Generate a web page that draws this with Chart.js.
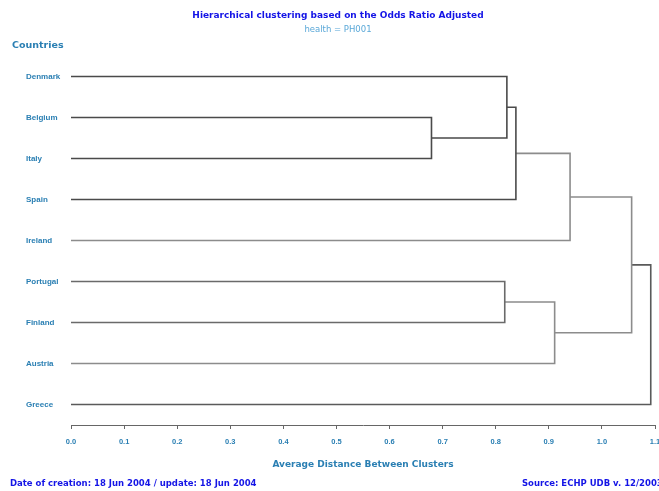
<!DOCTYPE html>
<html>
<head>
<meta charset="utf-8">
<script src="https://cdn.jsdelivr.net/npm/chart.js@4.4.0/dist/chart.umd.min.js"></script>
<style>
  body { margin: 0; background: #fff; }
  #wrap { width: 659px; height: 491px; }
</style>
</head>
<body>
<div id="wrap"><canvas id="dendro" width="659" height="491"></canvas></div>
<script>
// Leaves, top to bottom
const countries = ["Denmark", "Belgium", "Italy", "Spain", "Ireland", "Portugal", "Finland", "Austria", "Greece"];

// Each merge joins two nodes: a country name or the index of an earlier merge
const mergeLeft = ["Belgium", "Denmark", 1, 2, "Portugal", 4, 3, 6];
const mergeRight = ["Italy", 0, "Spain", "Ireland", "Finland", "Austria", 5, "Greece"];
const mergeHeights = [0.679, 0.821, 0.838, 0.940, 0.817, 0.911, 1.056, 1.092];

const xTicks = [0.0, 0.1, 0.2, 0.3, 0.4, 0.5, 0.6, 0.7, 0.8, 0.9, 1.0, 1.1];

const lineColors = ["#4a4a4a", "#4a4a4a", "#4a4a4a", "#8c8c8c", "#6a6a6a", "#8c8c8c", "#8c8c8c", "#5a5a5a"];

const axisBlue = "#2a7fb3";
const wideFont = "'DejaVu Sans', Verdana, sans-serif";
const narrowFont = "'Liberation Sans', Arial, sans-serif";

// Build the elbow lines of the tree
const nodeY = [];
function nodePos(node) {
  if (typeof node === "string") return { x: 0, y: countries.indexOf(node) };
  return { x: mergeHeights[node], y: nodeY[node] };
}

const datasets = mergeHeights.map((h, i) => {
  const a = nodePos(mergeLeft[i]);
  const b = nodePos(mergeRight[i]);
  nodeY[i] = (a.y + b.y) / 2;
  return {
    data: [a, { x: h, y: a.y }, { x: h, y: b.y }, b],
    showLine: true,
    borderColor: lineColors[i],
    borderWidth: 1.6,
    pointRadius: 0,
    fill: false
  };
});

// Titles and footnotes
const textPlugin = {
  id: "texts",
  afterDraw(chart) {
    const ctx = chart.ctx;
    ctx.save();
    ctx.textBaseline = "middle";

    ctx.textAlign = "center";
    ctx.fillStyle = "#1414e6";
    ctx.font = "bold 9px " + wideFont;
    ctx.fillText("Hierarchical clustering based on the Odds Ratio Adjusted", 338, 16);

    ctx.fillStyle = "#5aa8d8";
    ctx.font = "8.5px " + wideFont;
    ctx.fillText("health = PH001", 338, 30);

    ctx.fillStyle = axisBlue;
    ctx.font = "bold 9px " + wideFont;
    ctx.fillText("Average Distance Between Clusters", 363, 465);

    ctx.textAlign = "left";
    ctx.font = "bold 9.5px " + wideFont;
    ctx.fillText("Countries", 12, 46);

    ctx.fillStyle = "#1414e6";
    ctx.font = "bold 8.5px " + wideFont;
    ctx.fillText("Date of creation: 18 Jun 2004 / update: 18 Jun 2004", 10, 484);
    ctx.fillText("Source: ECHP UDB v. 12/2003", 522, 484);
    ctx.restore();
  }
};

new Chart(document.getElementById("dendro"), {
  type: "scatter",
  data: { datasets },
  options: {
    responsive: false,
    animation: false,
    events: [],
    layout: { padding: { top: 56, left: 26, right: 4, bottom: 0 } },
    plugins: {
      legend: { display: false },
      tooltip: { enabled: false }
    },
    scales: {
      x: {
        type: "linear",
        min: 0,
        max: 1.1,
        afterBuildTicks: (scale) => { scale.ticks = xTicks.map((v) => ({ value: v })); },
        afterFit: (scale) => {
          scale.height = 66;
          scale.paddingLeft = 0;
          scale.paddingRight = 0;
        },
        grid: { drawOnChartArea: false, drawTicks: true, tickLength: 4, color: "#666" },
        border: { display: true, color: "#666", width: 1 },
        ticks: {
          padding: 8,
          color: axisBlue,
          font: { family: narrowFont, size: 7.5, weight: "bold" },
          maxRotation: 0,
          callback: (v) => Number(v).toFixed(1)
        }
      },
      y: {
        type: "linear",
        min: -0.5,
        max: 8.5,
        reverse: true,
        afterBuildTicks: (scale) => { scale.ticks = countries.map((c, i) => ({ value: i })); },
        afterFit: (scale) => { scale.width = 45; },
        grid: { display: false },
        border: { display: false },
        ticks: {
          crossAlign: "far",
          color: axisBlue,
          font: { family: narrowFont, size: 8, weight: "bold" },
          callback: (v) => countries[v] || ""
        }
      }
    }
  },
  plugins: [textPlugin]
});
</script>
</body>
</html>
